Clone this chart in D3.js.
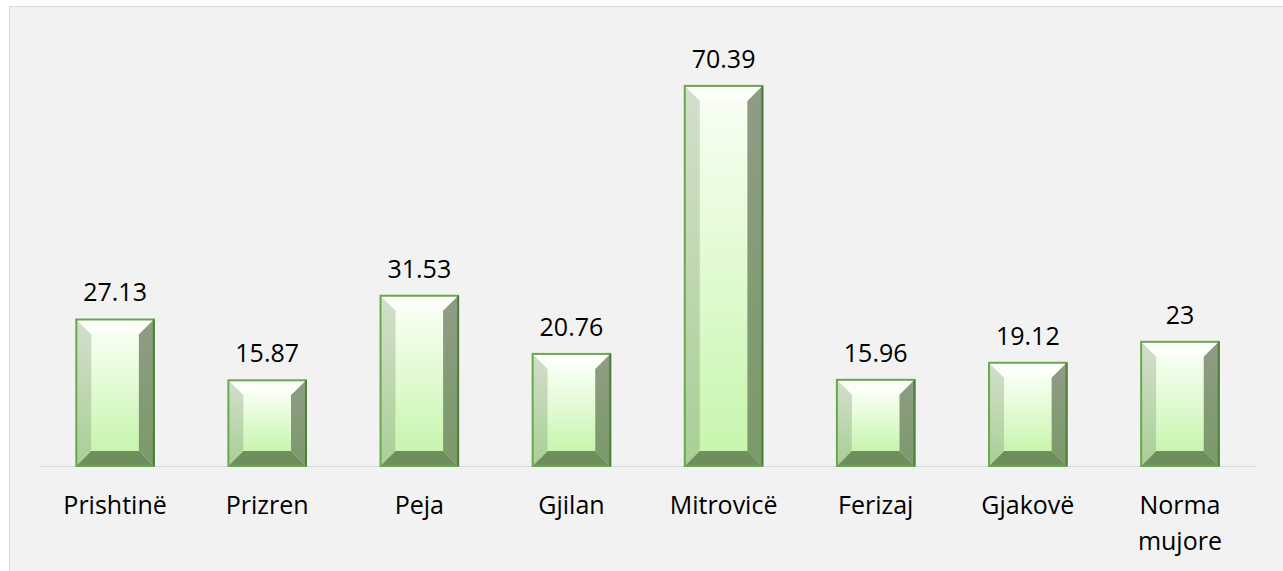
<!DOCTYPE html>
<html>
<head>
<meta charset="utf-8">
<script src="https://cdn.jsdelivr.net/npm/d3@7"></script>
<style>
  html, body { margin: 0; padding: 0; background: #ffffff; }
  svg { display: block; }
</style>
</head>
<body>
<svg id="chart" width="1283" height="571"></svg>
<script>
// Monthly values per city, plus the monthly norm
const categories = ["Prishtinë", "Prizren", "Peja", "Gjilan", "Mitrovicë", "Ferizaj", "Gjakovë", "Norma mujore"];
const values = [27.13, 15.87, 31.53, 20.76, 70.39, 15.96, 19.12, 23];
const valueLabels = ["27.13", "15.87", "31.53", "20.76", "70.39", "15.96", "19.12", "23"];

const W = 1283, H = 571;
const svg = d3.select("#chart");
const FONT = "'Open Sans', 'Liberation Sans', sans-serif";
const FS = 25;

// Panel background
svg.append("rect").attr("x", 9.5).attr("y", 6.5).attr("width", W).attr("height", H)
  .attr("fill", "#f2f2f2").attr("stroke", "#d9d9d9").attr("stroke-width", 1);

const x = d3.scaleBand().domain(categories).range([39, 1256]).paddingInner(0.49).paddingOuter(0.245);
const y = d3.scaleLinear().domain([0, 80]).range([466, 34]);

const defs = svg.append("defs");
const face = defs.append("linearGradient").attr("id", "faceGrad").attr("x1", 0).attr("y1", 0).attr("x2", 0).attr("y2", 1);
face.append("stop").attr("offset", "0%").attr("stop-color", "#f7fff2");
face.append("stop").attr("offset", "100%").attr("stop-color", "#c8f5ae");
const leftG = defs.append("linearGradient").attr("id", "leftGrad").attr("x1", 0).attr("y1", 0).attr("x2", 0).attr("y2", 1);
leftG.append("stop").attr("offset", "0%").attr("stop-color", "#d3dfcc");
leftG.append("stop").attr("offset", "100%").attr("stop-color", "#a9cf95");
const rightG = defs.append("linearGradient").attr("id", "rightGrad").attr("x1", 0).attr("y1", 0).attr("x2", 0).attr("y2", 1);
rightG.append("stop").attr("offset", "0%").attr("stop-color", "#8f9c86");
rightG.append("stop").attr("offset", "100%").attr("stop-color", "#7a9a68");

// Baseline
svg.append("line").attr("x1", 39).attr("x2", 1256).attr("y1", y(0) + 0.5).attr("y2", y(0) + 0.5)
  .attr("stroke", "#d9d9d9").attr("stroke-width", 1.2);

const bars = svg.append("g").selectAll("g").data(categories).join("g");

bars.each(function(c, i) {
  const g = d3.select(this);
  const x0 = x(c), x1 = x(c) + x.bandwidth();
  const y0 = y(values[i]), y1 = y(0);
  const b = Math.min(15, (y1 - y0) / 2);
  const pts = a => a.map(p => p.join(",")).join(" ");
  // inner face
  g.append("rect").attr("x", x0 + b).attr("y", y0 + b).attr("width", x1 - x0 - 2 * b).attr("height", y1 - y0 - 2 * b)
    .attr("fill", "url(#faceGrad)");
  // top bevel
  g.append("polygon").attr("points", pts([[x0, y0], [x1, y0], [x1 - b, y0 + b], [x0 + b, y0 + b]]))
    .attr("fill", "#fbfff7");
  // left bevel
  g.append("polygon").attr("points", pts([[x0, y0], [x0 + b, y0 + b], [x0 + b, y1 - b], [x0, y1]]))
    .attr("fill", "url(#leftGrad)");
  // right bevel
  g.append("polygon").attr("points", pts([[x1, y0], [x1, y1], [x1 - b, y1 - b], [x1 - b, y0 + b]]))
    .attr("fill", "url(#rightGrad)");
  // bottom bevel
  g.append("polygon").attr("points", pts([[x0, y1], [x0 + b, y1 - b], [x1 - b, y1 - b], [x1, y1]]))
    .attr("fill", "#6e8f5c");
  // outline
  g.append("rect").attr("x", x0).attr("y", y0).attr("width", x1 - x0).attr("height", y1 - y0)
    .attr("fill", "none").attr("stroke", "#6aa84f").attr("stroke-width", 2);
  g.append("line").attr("x1", x1).attr("x2", x1).attr("y1", y0).attr("y2", y1)
    .attr("stroke", "#4f7f3a").attr("stroke-width", 2);
  // value label
  g.append("text").attr("x", (x0 + x1) / 2).attr("y", y0 - 18)
    .attr("text-anchor", "middle").attr("font-family", FONT).attr("font-size", FS).attr("fill", "#000")
    .text(valueLabels[i]);
});

// Category labels (wrapped on spaces)
const labels = svg.append("g").selectAll("text").data(categories).join("text")
  .attr("x", d => x(d) + x.bandwidth() / 2).attr("y", 514)
  .attr("text-anchor", "middle").attr("font-family", FONT).attr("font-size", FS).attr("fill", "#000");
labels.each(function(d) {
  const t = d3.select(this);
  d.split(" ").forEach((w, k) => {
    t.append("tspan").attr("x", x(d) + x.bandwidth() / 2).attr("dy", k === 0 ? 0 : 36).text(w);
  });
});
</script>
</body>
</html>
